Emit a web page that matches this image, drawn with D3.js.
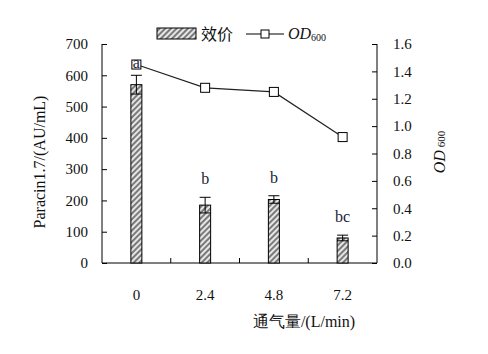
<!DOCTYPE html>
<html>
<head>
<meta charset="utf-8">
<script src="https://cdn.jsdelivr.net/npm/d3@7"></script>
<style>
  body { margin: 0; background: #fff; }
  svg text { font-family: "Liberation Serif", "Times New Roman", serif; fill: #111; }
</style>
</head>
<body>
<svg id="chart" width="488" height="354"></svg>
<script>
// data
var categories = ["0", "2.4", "4.8", "7.2"];
var titer      = [570, 185, 203, 80];     // 效价, AU/mL
var titerErr   = [30, 25, 12, 9];
var sigLetters = ["a", "b", "b", "bc"];
var od600      = [1.45, 1.28, 1.25, 0.92];
var leftTicks  = [0, 100, 200, 300, 400, 500, 600, 700];
var rightTicks = [0, 0.2, 0.4, 0.6, 0.8, 1.0, 1.2, 1.4, 1.6];

var serif = "'Liberation Serif', 'Times New Roman', serif";

var margin = { top: 44, right: 111, bottom: 91, left: 102 };
var width  = 488 - margin.left - margin.right,
    height = 354 - margin.top - margin.bottom;

var svg = d3.select("#chart");

// hatch pattern for the bars
var defs = svg.append("defs");
var pat = defs.append("pattern")
  .attr("id", "hatch")
  .attr("patternUnits", "userSpaceOnUse")
  .attr("width", 4).attr("height", 4)
  .attr("patternTransform", "rotate(45)");
pat.append("rect").attr("width", 4).attr("height", 4).attr("fill", "#e6e6e6");
pat.append("rect").attr("width", 2).attr("height", 4).attr("fill", "#7a7a7a");

var g = svg.append("g")
  .attr("transform", "translate(" + margin.left + "," + margin.top + ")");

var x = d3.scaleBand().domain(categories).range([0, width]);
var yL = d3.scaleLinear().domain([0, 700]).range([height, 0]);
var yR = d3.scaleLinear().domain([0, 1.6]).range([height, 0]);

// axes
var xAxis = g.append("g")
  .attr("transform", "translate(0," + height + ")")
  .call(d3.axisBottom(x).tickSize(0).tickPadding(26));
xAxis.select(".domain").attr("d", "M0,0H" + width).attr("stroke", "#000");
// category separators, pointing up
xAxis.selectAll(".sep")
  .data(d3.range(1, categories.length))
  .enter().append("line")
  .attr("x1", function(i) { return i * x.step(); })
  .attr("x2", function(i) { return i * x.step(); })
  .attr("y1", 0).attr("y2", -5)
  .attr("stroke", "#000");

var leftAxis = g.append("g")
  .call(d3.axisRight(yL).tickValues(leftTicks).tickSize(5).tickPadding(-19));
leftAxis.select(".domain").attr("d", "M0,0V" + height).attr("stroke", "#000");
leftAxis.selectAll("text").attr("text-anchor", "end");

var rightAxis = g.append("g")
  .attr("transform", "translate(" + width + ",0)")
  .call(d3.axisLeft(yR).tickValues(rightTicks).tickFormat(d3.format(".1f")).tickSize(5).tickPadding(-21));
rightAxis.select(".domain").attr("d", "M0,0V" + height).attr("stroke", "#000");
rightAxis.selectAll("text").attr("text-anchor", "start");

[xAxis, leftAxis, rightAxis].forEach(function(a) {
  a.attr("font-family", serif).attr("font-size", 15);
  a.selectAll("text").style("font-family", serif).style("font-size", "15px");
});

// bars
var barW = 11;
g.selectAll(".bar")
  .data(titer)
  .enter().append("rect")
  .attr("x", function(d, i) { return x(categories[i]) + x.bandwidth() / 2 - barW / 2; })
  .attr("y", function(d) { return yL(d); })
  .attr("width", barW)
  .attr("height", function(d) { return height - yL(d); })
  .attr("fill", "url(#hatch)")
  .attr("stroke", "#000")
  .attr("stroke-width", 1);

// error bars
var err = g.selectAll(".err")
  .data(titer)
  .enter().append("g")
  .attr("transform", function(d, i) { return "translate(" + (x(categories[i]) + x.bandwidth() / 2) + ",0)"; });
err.append("line")
  .attr("y1", function(d, i) { return yL(d - titerErr[i]); })
  .attr("y2", function(d, i) { return yL(d + titerErr[i]); })
  .attr("stroke", "#000");
err.append("line")
  .attr("x1", -5.5).attr("x2", 5.5)
  .attr("y1", function(d, i) { return yL(d + titerErr[i]); })
  .attr("y2", function(d, i) { return yL(d + titerErr[i]); })
  .attr("stroke", "#000");
err.append("line")
  .attr("x1", -5.5).attr("x2", 5.5)
  .attr("y1", function(d, i) { return yL(d - titerErr[i]); })
  .attr("y2", function(d, i) { return yL(d - titerErr[i]); })
  .attr("stroke", "#000");

// OD line
var line = d3.line()
  .x(function(d, i) { return x(categories[i]) + x.bandwidth() / 2; })
  .y(function(d) { return yR(d); });

g.append("path")
  .datum(od600)
  .attr("d", line)
  .attr("fill", "none")
  .attr("stroke", "#222")
  .attr("stroke-width", 1.2);

g.selectAll(".mk")
  .data(od600)
  .enter().append("rect")
  .attr("x", function(d, i) { return x(categories[i]) + x.bandwidth() / 2 - 4.5; })
  .attr("y", function(d) { return yR(d) - 4.5; })
  .attr("width", 9).attr("height", 9)
  .attr("fill", "#fff")
  .attr("stroke", "#000");

// significance letters
g.selectAll(".sig")
  .data(sigLetters)
  .enter().append("text")
  .attr("x", function(d, i) { return x(categories[i]) + x.bandwidth() / 2; })
  .attr("y", function(d, i) { return yL(titer[i] + titerErr[i]) - (i === 0 ? 7 : 13); })
  .attr("text-anchor", "middle")
  .style("font-size", "16px")
  .style("fill", "#1a1a3a")
  .text(function(d) { return d; });

// axis titles
svg.append("text")
  .attr("transform", "translate(45,162) rotate(-90)")
  .attr("text-anchor", "middle")
  .style("font-size", "16px")
  .text("Paracin1.7/(AU/mL)");

var rt = svg.append("text")
  .attr("transform", "translate(445,152) rotate(-90)")
  .attr("text-anchor", "middle")
  .style("font-size", "16px");
rt.append("tspan").style("font-style", "italic").text("OD");
rt.append("tspan").style("font-size", "11px").attr("dx", 3).text("600");

svg.append("text")
  .attr("x", 304).attr("y", 327)
  .attr("text-anchor", "middle")
  .style("font-size", "16px")
  .text("通气量/(L/min)");

// legend
var lg = svg.append("g");
lg.append("rect")
  .attr("x", 157).attr("y", 28).attr("width", 39).attr("height", 11)
  .attr("fill", "url(#hatch)").attr("stroke", "#000");
lg.append("text")
  .attr("x", 201).attr("y", 40)
  .style("font-size", "16px")
  .style("font-family", "'Noto Sans CJK SC', sans-serif")
  .text("效价");
lg.append("line")
  .attr("x1", 246).attr("x2", 284).attr("y1", 34).attr("y2", 34)
  .attr("stroke", "#000");
lg.append("rect")
  .attr("x", 261).attr("y", 30).attr("width", 8).attr("height", 8)
  .attr("fill", "#fff").attr("stroke", "#000");
var lt = lg.append("text")
  .attr("x", 288).attr("y", 39)
  .style("font-size", "16px");
lt.append("tspan").style("font-style", "italic").text("OD");
lt.append("tspan").style("font-size", "10px").attr("dy", 2).text("600");
</script>
</body>
</html>
